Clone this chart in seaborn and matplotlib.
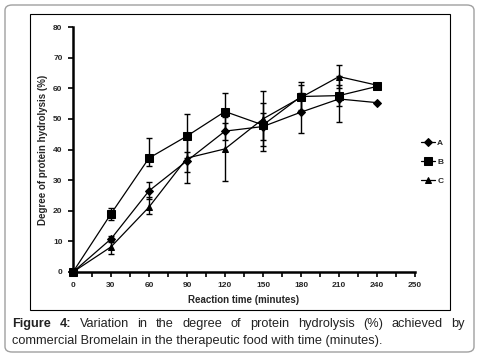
import matplotlib
matplotlib.use("Agg")
import matplotlib.pyplot as plt
from matplotlib.patches import FancyBboxPatch, Rectangle
import numpy as np
import pandas as pd
import seaborn as sns

# data
time_min = [0, 30, 60, 90, 120, 150, 180, 210, 240]
dh_a = [0, 10.8, 26.5, 36.3, 46.0, 47.5, 52.2, 56.5, 55.3]
dh_b = [0, 19.0, 37.2, 44.4, 52.4, 48.0, 57.3, 57.6, 60.6]
dh_c = [0, 8.2, 21.2, 37.2, 40.2, 50.0, 57.0, 63.8, 61.0]
err_a_lo = [0, 1.0, 2.6, 3.5, 2.8, 4.5, 6.8, 7.5, 0]
err_a_hi = [0, 1.0, 2.9, 3.0, 2.8, 4.5, 6.4, 7.5, 0]
err_b_lo = [0, 2.0, 2.6, 7.3, 6.2, 8.5, 4.6, 3.4, 0]
err_b_hi = [0, 2.0, 6.6, 7.3, 6.2, 7.2, 4.6, 3.4, 0]
err_c_lo = [0, 2.2, 2.3, 8.0, 10.4, 9.0, 4.0, 3.7, 0]
err_c_hi = [0, 2.0, 3.2, 8.0, 10.4, 9.0, 4.0, 3.7, 0]
series_names = ["A", "B", "C"]
# the original axis is evenly spaced every 30 min, but its last label reads 250
x_ticks = [0, 30, 60, 90, 120, 150, 180, 210, 240, 270]
x_labels = ["0", "30", "60", "90", "120", "150", "180", "210", "240", "250"]
y_ticks = [0, 10, 20, 30, 40, 50, 60, 70, 80]

caption_1 = "Variation in the degree of protein hydrolysis (%) achieved by"
caption_2 = "commercial Bromelain in the therapeutic food with time (minutes)."

W, H = 480, 358
sns.set_theme(style="ticks")
plt.rcParams["font.family"] = ["Liberation Sans", "DejaVu Sans"]

fig = plt.figure(figsize=(W / 100, H / 100), dpi=100)
fig.patch.set_facecolor("white")


def fx(px):
    return px / W


def fy(py):
    return 1 - py / H


# outer rounded frame and inner chart box
fig.patches.append(FancyBboxPatch((fx(5), fy(352)), fx(469), 347 / H,
                                  boxstyle="round,pad=0,rounding_size=0.015",
                                  transform=fig.transFigure, fill=False,
                                  ec="#a0a0a0", lw=1.0))
fig.patches.append(Rectangle((fx(30), fy(310)), fx(420), 296 / H,
                             transform=fig.transFigure, fill=False,
                             ec="black", lw=0.8))

ax = fig.add_axes([fx(73), fy(272), fx(342), 245 / H])

markers = {"A": "D", "B": "s", "C": "^"}
msizes = {"A": 3.6, "B": 5.5, "C": 5.0}
values = {"A": dh_a, "B": dh_b, "C": dh_c}
errs = {"A": (err_a_lo, err_a_hi), "B": (err_b_lo, err_b_hi),
        "C": (err_c_lo, err_c_hi)}

for name in series_names:
    df = pd.DataFrame({"time": time_min, "dh": values[name]})
    ax.errorbar(df.time, df.dh, yerr=[errs[name][0], errs[name][1]],
                fmt="none", ecolor="black", elinewidth=1.0, capsize=2.5,
                capthick=1.0, zorder=2)
    sns.lineplot(data=df, x="time", y="dh", ax=ax, color="black", lw=0.9,
                 marker=markers[name], markersize=msizes[name],
                 markeredgecolor="black", markerfacecolor="black",
                 label=name, zorder=3, clip_on=False)

ax.set_xlim(0, 270)
ax.set_ylim(0, 80)
ax.set_xticks(x_ticks)
ax.set_xticklabels(x_labels)
ax.set_xticks(np.arange(15, 270, 30), minor=True)
ax.set_yticks(y_ticks)
for s in ["top", "right"]:
    ax.spines[s].set_visible(False)
for s in ["left", "bottom"]:
    ax.spines[s].set_linewidth(1.8)
    ax.spines[s].set_color("black")
ax.tick_params(axis="both", which="both", direction="out", color="black",
               width=1.2, length=3.5, labelsize=6, pad=4)
for lab in ax.get_xticklabels() + ax.get_yticklabels():
    lab.set_fontweight("bold")
ax.set_xlabel("Reaction time (minutes)", fontsize=7, fontweight="bold",
              labelpad=4)
ax.set_ylabel("Degree of protein hydrolysis (%)", fontsize=7,
              fontweight="bold", labelpad=4)
ax.set_facecolor("white")

leg = ax.legend(loc="center left", bbox_to_anchor=(fx(413), fy(162)),
                bbox_transform=fig.transFigure, frameon=False,
                fontsize=6, handlelength=1.7, handletextpad=0.3,
                labelspacing=1.3)
for t in leg.get_texts():
    t.set_fontweight("bold")

# caption, first line justified
fs = 9.2
renderer = fig.canvas.get_renderer()
words = ["Figure", "4:"] + caption_1.split()
bold_n = 2
items = []
for i, w in enumerate(words):
    t = fig.text(0, fy(324), w, fontsize=fs, va="center", ha="left",
                 fontweight="bold" if i < bold_n else "normal",
                 color="#222222")
    items.append(t)
widths = [t.get_window_extent(renderer).width for t in items]
x0, x1 = 12, 465
gap = (x1 - x0 - sum(widths)) / (len(words) - 1)
xpos = x0
for t, w in zip(items, widths):
    t.set_x(fx(xpos))
    xpos += w + gap
fig.text(fx(12), fy(341), caption_2, fontsize=fs, va="center", ha="left",
         color="#222222")

fig.savefig("out.png", dpi=100)
